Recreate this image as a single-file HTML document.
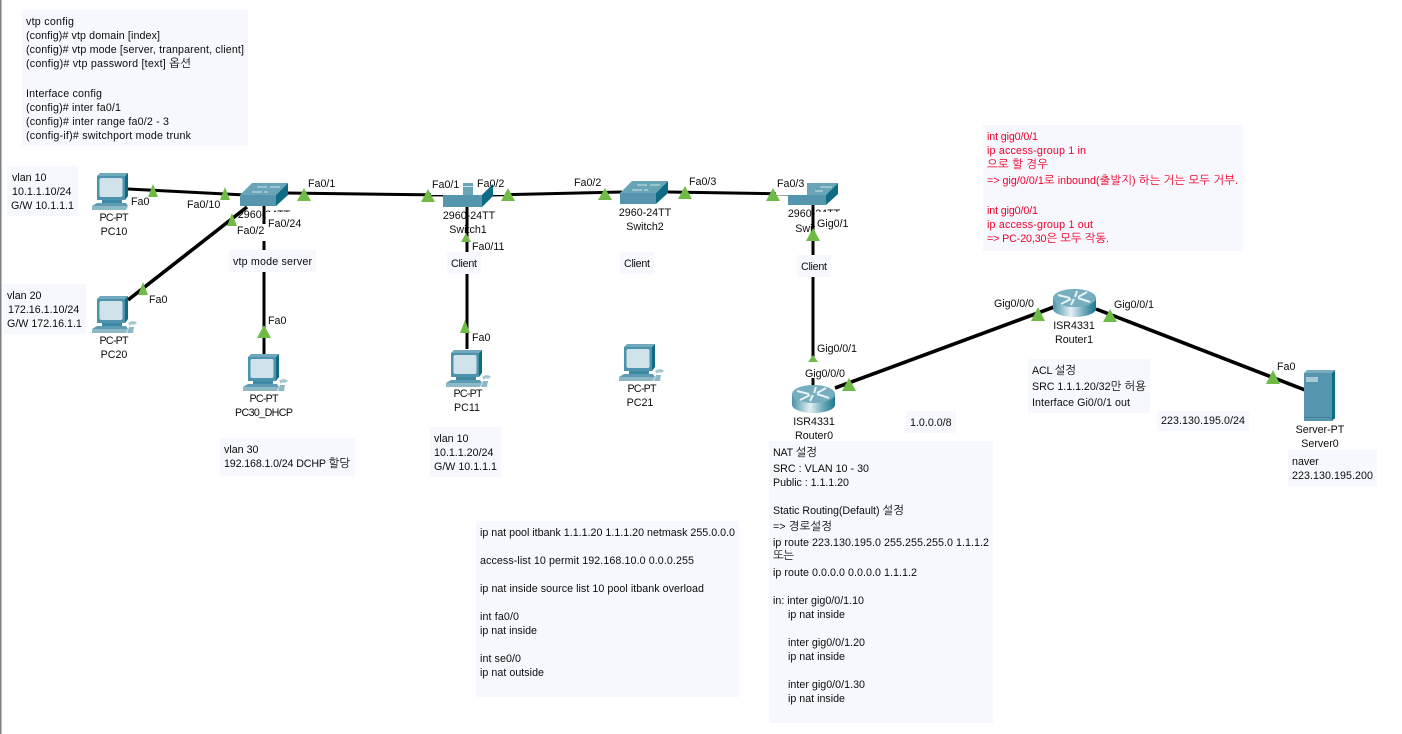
<!DOCTYPE html>
<html><head><meta charset="utf-8"><style>
html,body{margin:0;padding:0;background:#fff;width:1402px;height:734px;overflow:hidden}
svg{display:block}
text{font-family:"Liberation Sans","NanumGothic","Noto Sans CJK KR",sans-serif;font-size:10.7px;fill:#0c0c0c}
.n{fill:#f6f8fe}.w{fill:#fff}.g{fill:#6fbb45}
.l{stroke:#000;stroke-width:3;fill:none}
.d{stroke:#000;stroke-width:3.600;fill:none}
.c{text-anchor:middle}
.r text{fill:#f0002a}
tspan.k{font-size:11.500px}
</style></head><body>
<svg width="1402" height="734" viewBox="0 0 1402 734" xmlns="http://www.w3.org/2000/svg">
<defs>
<linearGradient id="rg" x1="0" x2="1" y1="0" y2="0"><stop offset="0" stop-color="#4b93a8"/><stop offset=".42" stop-color="#e4f0f3"/><stop offset=".72" stop-color="#6fa9b9"/><stop offset="1" stop-color="#1a7890"/></linearGradient>
<g id="pc">
<polygon points="0,3 3,0 31,0 28,3" fill="#6fa9bb"/>
<polygon points="28,3 31,0 31,23 28,27" fill="#0f6b84"/>
<rect x="0" y="3" width="28" height="24" fill="#4e93ad"/>
<rect x="2.500" y="5" width="23" height="19" rx="2" fill="#d0e3ea"/>
<rect x="5" y="27" width="20" height="3" fill="#3f8aa3"/>
<polygon points="0,30 29,30 31,33 -5,33" fill="#5d9cb2"/>
<polygon points="-5,33 31,33 29,37 -5,37" fill="#8db8c6"/>
</g>
<g id="mouse"><path d="M31,27c3,-3 8,-2 9,0l-3,2c-2,-1 -3,-1 -4,1z" fill="#a9c7d2"/><polygon points="32,31 37,31 36,37 30,37" fill="#8db8c6"/></g>
<g id="sw">
<polygon points="0,12 12,0 48,0 36,12" fill="#6aa5b7"/>
<polygon points="36,12 48,0 48,12 36,23" fill="#0e6b84"/>
<rect x="0" y="12" width="36" height="11" fill="#5595ae"/>
<path d="M12,9h10M24,9h4M17,4h10M30,4h10" stroke="#cfe3ea" stroke-width="1"/>
</g>
<g id="rt">
<rect x="0" y="9" width="43" height="11" fill="url(#rg)"/>
<ellipse cx="21.500" cy="20" rx="21.500" ry="8" fill="url(#rg)"/>
<ellipse cx="21.500" cy="9" rx="21.500" ry="9" fill="#76aebf"/>
<path d="M5,6l12,3M8,15l10,-5M25,8l9,-5M25,9l12,4M22,8l2,-6M21,10l-3,6" stroke="#e8f2f5" stroke-width="2" fill="none"/>
</g>
</defs>

<rect x="0" y="0" width="1.500" height="734" fill="#7b8087"/>

<!-- notes under -->
<rect class="n" x="22" y="10" width="226" height="136"/>
<rect class="n" x="7" y="166" width="71" height="50"/>
<rect class="n" x="3" y="284" width="83" height="50"/>
<rect class="n" x="220" y="438" width="135" height="38"/>
<rect class="n" x="430" y="427" width="71" height="50"/>
<rect class="n" x="476" y="521" width="263" height="176"/>
<rect class="n" x="769" y="441" width="224" height="282"/>
<rect class="n" x="1028" y="359" width="122" height="54"/>
<rect class="n" x="906" y="411" width="50" height="22"/>
<rect class="n" x="1157" y="411" width="92" height="20"/>
<rect class="n" x="1288" y="450" width="89" height="36"/>
<rect class="n" x="983" y="125" width="260" height="126"/>

<!-- node labels -->
<text class="c" x="114" y="221" textLength="29">PC-PT</text><text class="c" x="114" y="235">PC10</text>
<text class="c" x="114" y="344" textLength="29">PC-PT</text><text class="c" x="114" y="358">PC20</text>
<text class="c" x="264" y="402" textLength="29">PC-PT</text><text class="c" x="264" y="416" textLength="58">PC30_DHCP</text>
<text class="c" x="264" y="218">2960-24TT</text>
<text class="c" x="469" y="219">2960-24TT</text><text class="c" x="468" y="233">Switch1</text>
<text class="c" x="645" y="216">2960-24TT</text><text class="c" x="645" y="230">Switch2</text>
<text class="c" x="814" y="217">2960-24TT</text><text class="c" x="814" y="232">Switch3</text>
<text class="c" x="468" y="397" textLength="29">PC-PT</text><text class="c" x="467" y="411">PC11</text>
<text class="c" x="642" y="392" textLength="29">PC-PT</text><text class="c" x="640" y="406">PC21</text>
<text class="c" x="814" y="425">ISR4331</text><text class="c" x="814" y="439">Router0</text>
<text class="c" x="1074" y="329">ISR4331</text><text class="c" x="1074" y="343">Router1</text>
<text class="c" x="1320" y="433">Server-PT</text><text class="c" x="1320" y="447">Server0</text>

<!-- links -->
<path class="l" d="M128,189L245,195"/>
<path class="l" d="M286,193L445,195"/>
<path class="l" d="M490,195L622,192"/>
<path class="l" d="M668,192L790,194"/>
<path class="d" d="M128,300L247,207"/>
<path class="l" d="M264,205V354"/>
<path class="l" d="M467,205V349"/>
<path class="l" d="M813,205V388"/>
<path class="d" d="M835,388L1054,307"/>
<path class="d" d="M1096,309L1305,390"/>

<!-- port label backgrounds -->
<rect class="w" x="131" y="194" width="20" height="14"/>
<rect class="w" x="186" y="197" width="36" height="14"/>
<rect class="w" x="306" y="177" width="32" height="14"/>
<rect class="w" x="236" y="224" width="30" height="17"/>
<rect class="w" x="266" y="212" width="36" height="17"/>
<rect class="w" x="148" y="292" width="20" height="14"/>
<rect class="w" x="267" y="313" width="20" height="14"/>
<rect class="w" x="431" y="177" width="32" height="18"/>
<rect class="w" x="473" y="177" width="36" height="18"/>
<rect class="w" x="471" y="239" width="36" height="14"/>
<rect class="w" x="471" y="330" width="20" height="14"/>
<rect class="w" x="570" y="175" width="34" height="16"/>
<rect class="w" x="688" y="174" width="32" height="16"/>
<rect class="w" x="776" y="177" width="31" height="18"/>
<rect class="w" x="815" y="212" width="32" height="24"/>
<rect class="w" x="816" y="341" width="44" height="14"/>
<rect class="w" x="803" y="362" width="46" height="16"/>
<rect class="w" x="993" y="296" width="42" height="14"/>
<rect class="w" x="1113" y="297" width="44" height="14"/>
<rect class="w" x="1276" y="359" width="20" height="14"/>

<!-- devices -->
<g transform="translate(97,173)"><use href="#pc"/></g>
<g transform="translate(97,296)"><use href="#pc"/><use href="#mouse"/></g>
<g transform="translate(248,354)"><use href="#pc"/><use href="#mouse"/></g>
<g transform="translate(451,350)"><use href="#pc"/><use href="#mouse"/></g>
<g transform="translate(624,344)"><use href="#pc"/><use href="#mouse"/></g>
<g transform="translate(240,183)"><use href="#sw"/></g>
<g transform="translate(463,183)"><rect width="10" height="12" fill="#6aa5b7"/><rect y="3" width="10" height="1" fill="#cfe3ea"/></g>
<polygon points="443,195 482,195 493,184 493,196 482,207 443,207" fill="#5595ae"/>
<polygon points="482,195 493,184 493,196 482,207" fill="#0e6b84"/>
<g transform="translate(620,181)"><use href="#sw"/></g>
<polygon points="807,183 838,183 826,195 807,195" fill="#6aa5b7"/>
<path d="M815,191h8M820,187h12" stroke="#cfe3ea"/>
<rect x="788" y="195" width="38" height="10" fill="#5595ae"/>
<polygon points="826,195 838,183 838,194 826,205" fill="#0e6b84"/>
<g transform="translate(792,385)"><use href="#rt"/></g>
<g transform="translate(1053,289)"><use href="#rt"/></g>
<polygon points="1304,373 1307,370 1335,370 1332,373" fill="#79adbf"/>
<polygon points="1332,373 1335,370 1335,418 1332,421" fill="#0e6b84"/>
<rect x="1304" y="373" width="28" height="48" fill="#5595ae"/>
<rect x="1306" y="377" width="12" height="5" fill="#a5cad6"/>
<rect x="1304" y="417" width="28" height="1" fill="#4383a0"/>

<!-- link-light triangles -->
<polygon class="g" points="153,184 148,197 158,197"/>
<polygon class="g" points="225,187 220,200 230,200"/>
<polygon class="g" points="304,188 297,201 311,201"/>
<polygon class="g" points="232,213 227,226 237,226"/>
<polygon class="g" points="143,282 138,295 148,295"/>
<polygon class="g" points="264,325 257,338 271,338"/>
<polygon class="g" points="428,189 421,202 435,202"/>
<polygon class="g" points="508,188 501,201 515,201"/>
<polygon class="g" points="605,188 598,200 612,200"/>
<polygon class="g" points="685,186 678,199 692,199"/>
<polygon class="g" points="773,188 766,201 780,201"/>
<polygon class="g" points="813,228 806,241 820,241"/>
<polygon class="g" points="466,233 461,242 471,242"/>
<polygon class="g" points="465,320 460,333 470,333"/>
<polygon class="g" points="813,355 808,362 818,362"/>
<polygon class="g" points="849,378 842,391 856,391"/>
<polygon class="g" points="1038,307 1031,321 1045,321"/>
<polygon class="g" points="1110,309 1103,322 1117,322"/>
<polygon class="g" points="1273,370 1266,384 1280,384"/>

<!-- port labels -->
<text x="131" y="205">Fa0</text>
<text x="187" y="208">Fa0/10</text>
<text x="308" y="187">Fa0/1</text>
<text x="237" y="234">Fa0/2</text>
<text x="268" y="227">Fa0/24</text>
<text x="149" y="303">Fa0</text>
<text x="268" y="324">Fa0</text>
<text x="432" y="188">Fa0/1</text>
<text x="477" y="187">Fa0/2</text>
<text x="472" y="250">Fa0/11</text>
<text x="472" y="341">Fa0</text>
<text x="574" y="186">Fa0/2</text>
<text x="689" y="185">Fa0/3</text>
<text x="777" y="187">Fa0/3</text>
<text x="817" y="227">Gig0/1</text>
<text x="817" y="352" textLength="40">Gig0/0/1</text>
<text x="805" y="377" textLength="40">Gig0/0/0</text>
<text x="994" y="307" textLength="40">Gig0/0/0</text>
<text x="1114" y="308" textLength="40">Gig0/0/1</text>
<text x="1277" y="370">Fa0</text>

<!-- mode boxes -->
<rect class="n" x="229" y="250" width="87" height="22"/>
<text x="233" y="265" textLength="79">vtp mode server</text>
<rect class="n" x="447" y="252" width="34" height="22"/>
<text x="451" y="267" textLength="26">Client</text>
<rect class="n" x="620" y="252" width="34" height="22"/>
<text x="624" y="267" textLength="26">Client</text>
<rect class="n" x="797" y="255" width="34" height="22"/>
<text x="801" y="270" textLength="26">Client</text>

<!-- notes -->
<text x="26" y="25" textLength="48">vtp config</text>
<text x="26" y="39" textLength="134">(config)# vtp domain [index]</text>
<text x="26" y="53" textLength="218">(config)# vtp mode [server, tranparent, client]</text>
<text x="26" y="67" textLength="165">(config)# vtp password [text] <tspan class="k">옵션</tspan></text>
<text x="26" y="97" textLength="76">Interface config</text>
<text x="26" y="111" textLength="95">(config)# inter fa0/1</text>
<text x="26" y="125" textLength="143">(config)# inter range fa0/2 - 3</text>
<text x="26" y="139" textLength="165">(config-if)# switchport mode trunk</text>

<text x="12" y="181">vlan 10</text><text x="12" y="195">10.1.1.10/24</text><text x="11" y="209">G/W 10.1.1.1</text>
<text x="7" y="299">vlan 20</text><text x="8" y="313">172.16.1.10/24</text><text x="7" y="327">G/W 172.16.1.1</text>
<text x="224" y="453">vlan 30</text><text x="224" y="467" textLength="126">192.168.1.0/24 DCHP <tspan class="k">할당</tspan></text>
<text x="434" y="442">vlan 10</text><text x="434" y="456">10.1.1.20/24</text><text x="434" y="470">G/W 10.1.1.1</text>

<text x="480" y="536" textLength="255">ip nat pool itbank 1.1.1.20 1.1.1.20 netmask 255.0.0.0</text>
<text x="480" y="564" textLength="214">access-list 10 permit 192.168.10.0 0.0.0.255</text>
<text x="480" y="592" textLength="224">ip nat inside source list 10 pool itbank overload</text>
<text x="480" y="620" textLength="39">int fa0/0</text>
<text x="480" y="634" textLength="57">ip nat inside</text>
<text x="480" y="662" textLength="41">int se0/0</text>
<text x="480" y="676" textLength="64">ip nat outside</text>

<text x="773" y="456" textLength="44">NAT <tspan class="k">설정</tspan></text>
<text x="773" y="472" textLength="96">SRC : VLAN 10 - 30</text>
<text x="773" y="486" textLength="76">Public : 1.1.1.20</text>
<text x="773" y="514" textLength="131">Static Routing(Default) <tspan class="k">설정</tspan></text>
<text x="773" y="530" textLength="59">=&gt; <tspan class="k">경로설정</tspan></text>
<text x="773" y="546" textLength="216">ip route 223.130.195.0 255.255.255.0 1.1.1.2</text>
<text x="773" y="559" textLength="21"><tspan class="k">또는</tspan></text>
<text x="773" y="576" textLength="144">ip route 0.0.0.0 0.0.0.0 1.1.1.2</text>
<text x="773" y="604" textLength="91">in: inter gig0/0/1.10</text>
<text x="788" y="618" textLength="57">ip nat inside</text>
<text x="788" y="646" textLength="77">inter gig0/0/1.20</text>
<text x="788" y="660" textLength="57">ip nat inside</text>
<text x="788" y="688" textLength="77">inter gig0/0/1.30</text>
<text x="788" y="702" textLength="57">ip nat inside</text>

<text x="1032" y="374" textLength="44">ACL <tspan class="k">설정</tspan></text>
<text x="1032" y="390" textLength="114">SRC 1.1.1.20/32<tspan class="k">만 허용</tspan></text>
<text x="1032" y="406" textLength="98">Interface Gi0/0/1 out</text>
<text x="910" y="426">1.0.0.0/8</text>
<text x="1161" y="424" textLength="84">223.130.195.0/24</text>
<text x="1292" y="465">naver</text>
<text x="1292" y="479" textLength="81">223.130.195.200</text>

<g class="r">
<text x="987" y="140" textLength="51">int gig0/0/1</text>
<text x="987" y="154" textLength="99">ip access-group 1 in</text>
<text x="987" y="168" textLength="61"><tspan class="k">으로 할 경우</tspan></text>
<text x="987" y="184" textLength="251">=&gt; gig/0/0/1<tspan class="k">로</tspan> inbound(<tspan class="k">출발지</tspan>) <tspan class="k">하는 거는 모두 거부</tspan>.</text>
<text x="987" y="214" textLength="51">int gig0/0/1</text>
<text x="987" y="228" textLength="106">ip access-group 1 out</text>
<text x="987" y="242" textLength="122">=&gt; PC-20,30<tspan class="k">은 모두 작동</tspan>.</text>
</g>
</svg>
</body></html>
